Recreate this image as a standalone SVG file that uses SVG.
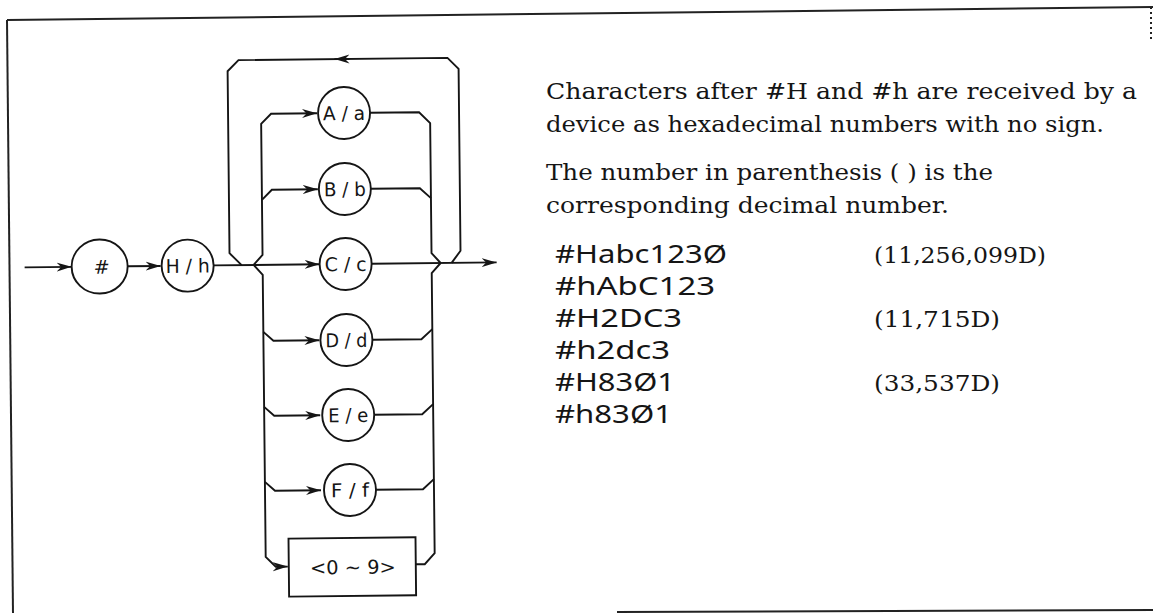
<svg xmlns="http://www.w3.org/2000/svg" width="1153" height="613" viewBox="0 0 1153 613">
<defs>
<style>
.ln{fill:none;stroke:#151515;stroke-width:1.9;stroke-linejoin:miter}
.nd{fill:#fff;stroke:#151515;stroke-width:1.9}
.lb{font-family:"DejaVu Sans","Liberation Sans",sans-serif;font-size:19px;fill:#151515;text-anchor:middle}
.sr{font-family:"DejaVu Serif","Liberation Serif",serif;font-size:23px;fill:#151515}
.cd{font-family:"Noto Sans","Open Sans",sans-serif;font-size:25px;fill:#151515}
.fr{fill:none;stroke:#222;stroke-width:2}
</style>
<marker id="ah" viewBox="0 0 16 10" refX="15" refY="5" markerWidth="16" markerHeight="10" markerUnits="userSpaceOnUse" orient="auto">
<path d="M0,0.5 L15,5 L0,9.5 L4.5,5 z" fill="#151515"/>
</marker>
</defs>
<rect width="1153" height="613" fill="#fff"/>
<g id="frame">
<path class="fr" d="M7,20 L1153,7"/>
<path class="fr" d="M7,20 L13,613"/>
<path class="fr" d="M1151,7 L1151,42" stroke-dasharray="2 3" stroke-width="1.5"/>
<path class="fr" d="M617,612 L1153,610" stroke-width="1.6"/>
</g>
<g transform="rotate(-0.6 250 300)">
<g id="connectors">
<path class="ln" d="M25,265 L72,265" marker-end="url(#ah)"/>
<path class="ln" d="M128,265 L161,265" marker-end="url(#ah)"/>
<path class="ln" d="M214,265 L320,265" marker-end="url(#ah)"/>
<path class="ln" d="M372,265 L497,265" marker-end="url(#ah)"/>
<path class="ln" d="M242,265 L230,253 L230,71 L241,60 L450,60 L461,71 L461,253 L452,265"/>
<path class="ln" d="M352,60 L337,60" marker-end="url(#ah)"/>
<path class="ln" d="M254,265 L263,255 L263,124 L273,114 L319,114" marker-end="url(#ah)"/>
<path class="ln" d="M263,200 L273,190 L319,190" marker-end="url(#ah)"/>
<path class="ln" d="M254,265 L263,275 L263,557 L273,567 L285,567" marker-end="url(#ah)"/>
<path class="ln" d="M263,332 L273,341 L319,341" marker-end="url(#ah)"/>
<path class="ln" d="M263,407 L273,416 L319,416" marker-end="url(#ah)"/>
<path class="ln" d="M263,482 L273,491 L319,491" marker-end="url(#ah)"/>
<path class="ln" d="M372,114 L421,114 L432,125 L432,255 L441,265"/>
<path class="ln" d="M372,190 L421,190 L432,200"/>
<path class="ln" d="M441,265 L432,275 L432,555 L422,566 L413,566"/>
<path class="ln" d="M372,341 L421,341 L432,331"/>
<path class="ln" d="M372,416 L421,416 L432,406"/>
<path class="ln" d="M372,491 L421,491 L432,481"/>
</g>
<g id="n-hash"><ellipse class="nd" cx="100" cy="265" rx="28" ry="27"/><text class="lb" x="102" y="272" font-style="italic" font-size="21">#</text></g>
<g id="n-H"><circle class="nd" cx="188" cy="265" r="26"/><text class="lb" x="188" y="272" textLength="44" lengthAdjust="spacingAndGlyphs">H / h</text></g>
<g id="n-A"><circle class="nd" cx="346" cy="114" r="26"/><text class="lb" x="346" y="121" textLength="42" lengthAdjust="spacingAndGlyphs">A / a</text></g>
<g id="n-B"><circle class="nd" cx="346" cy="190" r="26"/><text class="lb" x="346" y="197" textLength="42" lengthAdjust="spacingAndGlyphs">B / b</text></g>
<g id="n-C"><circle class="nd" cx="346" cy="265" r="26"/><text class="lb" x="346" y="272" textLength="42" lengthAdjust="spacingAndGlyphs">C / c</text></g>
<g id="n-D"><circle class="nd" cx="346" cy="341" r="26"/><text class="lb" x="346" y="348" textLength="42" lengthAdjust="spacingAndGlyphs">D / d</text></g>
<g id="n-E"><circle class="nd" cx="347" cy="416" r="26"/><text class="lb" x="347" y="423" textLength="40" lengthAdjust="spacingAndGlyphs">E / e</text></g>
<g id="n-F"><circle class="nd" cx="348" cy="491" r="26"/><text class="lb" x="348" y="498" textLength="38" lengthAdjust="spacingAndGlyphs">F / f</text></g>
<g id="n-digit"><rect class="nd" x="286" y="539" width="127" height="58"/><text class="lb" x="350" y="575" textLength="86" lengthAdjust="spacingAndGlyphs">&lt;0 ~ 9&gt;</text></g>
</g>
<g id="desc">
<text class="sr" x="546" y="99" textLength="591" lengthAdjust="spacingAndGlyphs">Characters after #H and #h are received by a</text>
<text class="sr" x="546" y="132" textLength="558" lengthAdjust="spacingAndGlyphs">device as hexadecimal numbers with no sign.</text>
<text class="sr" x="546" y="180" textLength="447" lengthAdjust="spacingAndGlyphs">The number in parenthesis ( ) is the</text>
<text class="sr" x="546" y="213" textLength="403" lengthAdjust="spacingAndGlyphs">corresponding decimal number.</text>
</g>
<g id="examples">
<text class="cd" x="555" y="263" textLength="172" lengthAdjust="spacingAndGlyphs">#Habc123Ø</text>
<text class="cd" x="555" y="295" textLength="160" lengthAdjust="spacingAndGlyphs">#hAbC123</text>
<text class="cd" x="555" y="327" textLength="127" lengthAdjust="spacingAndGlyphs">#H2DC3</text>
<text class="cd" x="555" y="359" textLength="115" lengthAdjust="spacingAndGlyphs">#h2dc3</text>
<text class="cd" x="555" y="391" textLength="120" lengthAdjust="spacingAndGlyphs">#H83Ø1</text>
<text class="cd" x="555" y="423" textLength="117" lengthAdjust="spacingAndGlyphs">#h83Ø1</text>
<text class="sr" x="874" y="263" textLength="172" lengthAdjust="spacingAndGlyphs">(11,256,099D)</text>
<text class="sr" x="874" y="327" textLength="126" lengthAdjust="spacingAndGlyphs">(11,715D)</text>
<text class="sr" x="874" y="391" textLength="126" lengthAdjust="spacingAndGlyphs">(33,537D)</text>
</g>
</svg>
